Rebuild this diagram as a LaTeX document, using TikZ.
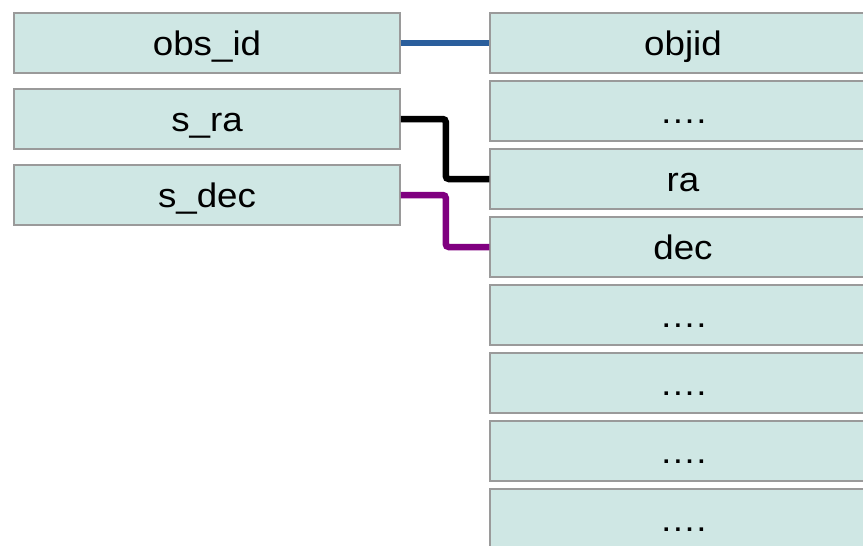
\documentclass[tikz,border=0pt]{standalone}
\usepackage{fontspec}
\setmainfont{Liberation Sans}[FakeStretch=1.08]
\definecolor{cellfill}{HTML}{CFE7E4}
\definecolor{cellline}{HTML}{9A9A9A}
\definecolor{linkblue}{HTML}{2A5E9C}
\definecolor{linkpurple}{HTML}{800080}
\tikzset{
	cell/.style={draw=cellline, line width=1.5pt, fill=cellfill, minimum width=386pt, minimum height=60pt, inner sep=0pt, text height=24pt, text depth=0pt, font=\fontsize{34}{40}\selectfont},
	link/.style={line width=6.5pt, rounded corners=3pt}
}
\begin{document}
\begin{tikzpicture}[x=1pt,y=-1pt]
	\clip (0,0) rectangle (863,546);
	\useasboundingbox (0,0) rectangle (863,546);
	\node [cell] (obsid) at (207,43) {obs\_id};
	\node [cell] (sra) at (207,119) {s\_ra};
	\node [cell] (sdec) at (207,195) {s\_dec};
	\node [cell] (objid) at (683,43) {objid};
	\node [cell] (dots1) at (683,111) {….};
	\node [cell] (ra) at (683,179) {ra};
	\node [cell] (dec) at (683,247) {dec};
	\foreach \y/\n in {315/dots2, 383/dots3, 451/dots4, 519/dots5}
		\node [cell] (\n) at (683,\y) {….};
	\draw [link, linkblue] (obsid.east) -- (objid.west);
	\draw [link, black] (sra.east) -- ++(45,0) |- (ra.west);
	\draw [link, linkpurple] (sdec.east) -- ++(45,0) |- (dec.west);
\end{tikzpicture}
\end{document}
